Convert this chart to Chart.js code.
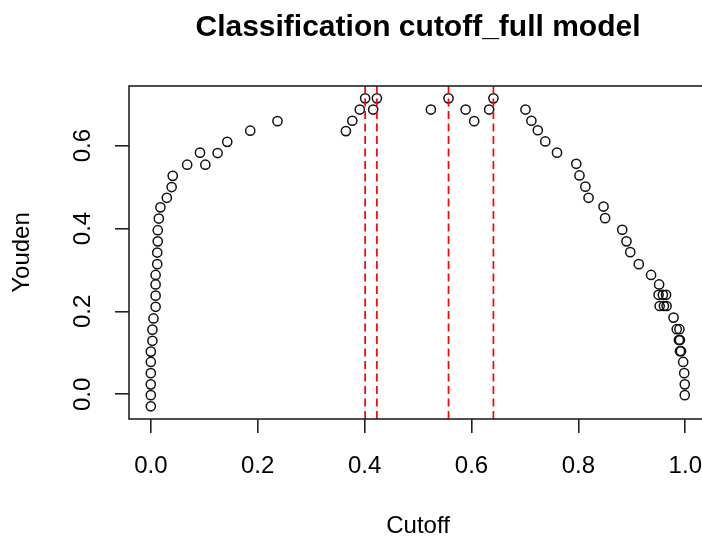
<!DOCTYPE html>
<html lang="en">
<head>
<meta charset="UTF-8" />
<title>Classification cutoff_full model</title>
<script src="https://cdn.jsdelivr.net/npm/chart.js"></script>
<style>
  html, body { margin: 0; padding: 0; background: #fff; overflow: hidden; }
  /* plot region runs a little past the right edge of the window */
  #wrap { width: 740px; height: 541px; position: relative; }
</style>
</head>
<body>
<div id="wrap"><canvas id="cutoffChart"></canvas></div>

<script>
// cutoff value and Youden index for each candidate threshold
const cutoff = [
  0.000, 0.000, 0.000, 0.000, 0.000, 0.000, 0.003, 0.003, 0.005, 0.009,
  0.009, 0.009, 0.009, 0.012, 0.012, 0.013, 0.013, 0.015, 0.018, 0.030,
  0.039, 0.041, 0.068, 0.102, 0.092, 0.125, 0.143, 0.186, 0.237,
  0.365, 0.377, 0.391, 0.401, 0.416, 0.423, 0.524, 0.557, 0.589, 0.605,
  0.633, 0.641,
  0.701, 0.712, 0.724, 0.738, 0.760, 0.796, 0.802, 0.813, 0.819, 0.847,
  0.850, 0.882, 0.890, 0.897, 0.913, 0.936, 0.951, 0.950, 0.958, 0.964,
  0.952, 0.960, 0.965, 0.978, 0.984, 0.989, 0.988, 0.990, 0.990, 0.992,
  0.996, 0.998, 0.999, 0.999
];
const youden = [
  -0.029, -0.002, 0.024, 0.051, 0.078, 0.103, 0.129, 0.156, 0.183, 0.211,
  0.238, 0.265, 0.288, 0.314, 0.342, 0.369, 0.396, 0.424, 0.451, 0.474,
  0.500, 0.527, 0.554, 0.554, 0.583, 0.582, 0.609, 0.636, 0.659,
  0.635, 0.660, 0.687, 0.714, 0.687, 0.714, 0.687, 0.714, 0.687, 0.659,
  0.687, 0.714,
  0.687, 0.660, 0.637, 0.610, 0.583, 0.556, 0.528, 0.501, 0.474, 0.453,
  0.425, 0.397, 0.369, 0.343, 0.314, 0.288, 0.265, 0.240, 0.240, 0.240,
  0.213, 0.213, 0.213, 0.185, 0.157, 0.157, 0.131, 0.131, 0.104, 0.104,
  0.078, 0.051, 0.024, -0.002
];

// cutoffs where the Youden index is at its maximum
const bestCutoffs = [0.401, 0.423, 0.557, 0.641];

const xTicks = [0.0, 0.2, 0.4, 0.6, 0.8, 1.0];
const yTicks = [0.0, 0.2, 0.4, 0.6];
const xLim = [-0.0408, 1.0406];
const yLim = [-0.0596, 0.7438];

const FONT = "'Liberation Sans', Arial, sans-serif";

// box around the plot region
const frame = {
  id: 'frame',
  afterDatasetsDraw(chart) {
    const a = chart.chartArea, ctx = chart.ctx;
    ctx.save();
    ctx.strokeStyle = '#222';
    ctx.lineWidth = 1.6;
    ctx.strokeRect(a.left, a.top, a.right - a.left, a.bottom - a.top);
    ctx.restore();
  }
};

const points = cutoff.map((c, i) => ({ x: c, y: youden[i] }));

const datasets = [{
  data: points,
  pointStyle: 'circle',
  pointRadius: 4.6,
  borderWidth: 1.5,
  borderColor: '#111',
  backgroundColor: 'rgba(0,0,0,0)',
  order: 2
}];

bestCutoffs.forEach(c => {
  datasets.push({
    data: [{ x: c, y: yLim[0] }, { x: c, y: yLim[1] }],
    showLine: true,
    pointRadius: 0,
    borderColor: '#ff0000',
    borderWidth: 1.7,
    borderDash: [8, 4.5],
    order: 1
  });
});

new Chart(document.getElementById('cutoffChart'), {
  type: 'scatter',
  data: { datasets },
  plugins: [frame],
  options: {
    responsive: true,
    maintainAspectRatio: false,
    animation: false,
    events: [],
    layout: { padding: { left: 0, top: 0, right: 33, bottom: 0 } },
    plugins: {
      legend: { display: false },
      tooltip: { enabled: false },
      title: {
        display: true,
        text: 'Classification cutoff_full model',
        fullSize: false,
        color: '#000',
        font: { family: FONT, size: 30, weight: 'bold' },
        padding: { top: 10, bottom: 40 }
      }
    },
    scales: {
      x: {
        type: 'linear',
        min: xLim[0],
        max: xLim[1],
        afterBuildTicks: s => { s.ticks = xTicks.map(v => ({ value: v })); },
        afterFit: s => { s.height = 122; },
        ticks: {
          color: '#000',
          padding: 19,
          font: { family: FONT, size: 24 },
          callback: v => v.toFixed(1)
        },
        grid: { drawOnChartArea: false, drawTicks: true, tickLength: 14, color: '#222', lineWidth: 1.6 },
        border: { display: false },
        title: {
          display: true,
          text: 'Cutoff',
          color: '#000',
          font: { family: FONT, size: 24 },
          padding: { top: 0, bottom: 0 }
        }
      },
      y: {
        type: 'linear',
        min: yLim[0],
        max: yLim[1],
        afterBuildTicks: s => { s.ticks = yTicks.map(v => ({ value: v })); },
        afterFit: s => { s.width = 129; },
        ticks: {
          color: '#000',
          padding: 15,
          minRotation: 90,
          maxRotation: 90,
          crossAlign: 'center',
          font: { family: FONT, size: 24 },
          callback: v => v.toFixed(1)
        },
        grid: { drawOnChartArea: false, drawTicks: true, tickLength: 14, color: '#222', lineWidth: 1.6 },
        border: { display: false },
        title: {
          display: true,
          text: 'Youden',
          color: '#000',
          font: { family: FONT, size: 24 },
          padding: { top: 8, bottom: 0 }
        }
      }
    }
  }
});
</script>
</body>
</html>
